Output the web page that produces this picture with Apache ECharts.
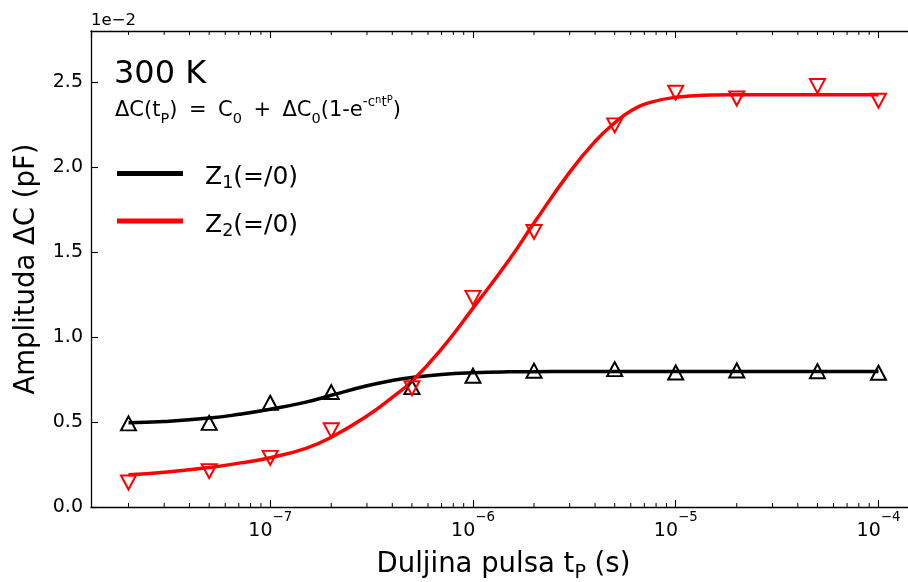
<!DOCTYPE html>
<html><head><meta charset="utf-8">
<script src="https://cdn.jsdelivr.net/npm/echarts@6/dist/echarts.min.js"></script>
<style>html,body{margin:0;padding:0;background:#fff}#c{width:908px;height:582px}</style>
</head><body><div id="c"></div>
<script>
// ---- data ----
const pulseTimes = [2e-8, 5e-8, 1e-7, 2e-7, 5e-7, 1e-6, 2e-6, 5e-6, 1e-5, 2e-5, 5e-5, 1e-4];
const z1Measured = [0.492, 0.495, 0.613, 0.676, 0.705, 0.772, 0.802, 0.811, 0.791, 0.803, 0.799, 0.790];
const z2Measured = [0.144, 0.211, 0.289, 0.451, 0.699, 1.230, 1.618, 2.245, 2.437, 2.403, 2.476, 2.390];
const fitTimes = [2e-8, 3e-8, 5e-8, 7e-8, 1e-7, 1.5e-7, 2e-7, 3e-7, 4e-7, 5e-7, 7e-7, 1e-6, 1.5e-6, 2e-6, 3e-6, 4e-6, 5e-6, 6e-6, 7.5e-6, 1e-5, 1.5e-5, 2e-5, 5e-5, 1e-4];
const z1Fit = [0.495, 0.503, 0.523, 0.545, 0.575, 0.617, 0.657, 0.713, 0.744, 0.762, 0.780, 0.790, 0.795, 0.796, 0.797, 0.797, 0.797, 0.797, 0.797, 0.797, 0.797, 0.797, 0.797, 0.797];
const z2Fit = [0.190, 0.205, 0.232, 0.258, 0.290, 0.345, 0.410, 0.535, 0.645, 0.740, 0.930, 1.170, 1.450, 1.670, 1.970, 2.150, 2.260, 2.330, 2.380, 2.410, 2.423, 2.425, 2.425, 2.425];
const seriesNames = ['Z1(=/0)', 'Z2(=/0)'];
const minorTickValues = [2e-8,3e-8,4e-8,5e-8,6e-8,7e-8,8e-8,9e-8,
  2e-7,3e-7,4e-7,5e-7,6e-7,7e-7,8e-7,9e-7,
  2e-6,3e-6,4e-6,5e-6,6e-6,7e-6,8e-6,9e-6,
  2e-5,3e-5,4e-5,5e-5,6e-5,7e-5,8e-5,9e-5];
const xMin = 1.3065e-8, xMax = 1.5311e-4;
const yMin = 0, yMax = 2.8, yStep = 0.5;

const FONT = 'DejaVu Sans';
const chart = echarts.init(document.getElementById('c'), null, {renderer: 'canvas'});

const pairs = (xs, ys) => xs.map((x, i) => [x, ys[i]]);

const xTickFmt = v => {
  const e = Math.round(Math.log10(v));
  return '{b|10}{p|\u2212' + Math.abs(e) + '}';
};

const axisCommon = {
  type: 'log', logBase: 10, min: xMin, max: xMax,
  axisLine: {show: true, lineStyle: {color: '#000', width: 1.3}},
  axisTick: {show: true, inside: true, length: 7, lineStyle: {color: '#000', width: 1.1}},
  splitLine: {show: false}, minorTick: {show: false}, minorSplitLine: {show: false}
};

const option = {
  animation: false,
  backgroundColor: '#fff',
  textStyle: {fontFamily: FONT},
  grid: {left: 91, top: 31, width: 825, height: 476, containLabel: false, outerBoundsMode: 'none'},
  title: [
    {text: '1e\u22122', left: 91, top: 12, padding: 0,
     textStyle: {fontFamily: FONT, fontSize: 16.5, fontWeight: 'normal', color: '#000', lineHeight: 17}},
    {text: '300 K', left: 114, top: 59, padding: 0,
     textStyle: {fontFamily: FONT, fontSize: 32, fontWeight: 'normal', color: '#000', lineHeight: 32}},
    {text: '{m|\u0394C(t}{s|P}{m|)}{g| }{m|=}{g| }{m|C}{s|0}{g| }{m|+}{g| }{m|\u0394C}{s|0}{m|(1-e}{u|-c}{v|n}{u|t}{v|P}{m|)}',
     left: 115, top: 95, padding: 0,
     textStyle: {fontFamily: FONT, fontWeight: 'normal', fontSize: 19, rich: {
       m: {fontFamily: FONT, fontSize: 21, lineHeight: 32, color: '#000'},
       s: {fontFamily: FONT, fontSize: 14.5, lineHeight: 14.4, verticalAlign: 'bottom', color: '#000'},
       g: {fontFamily: FONT, fontSize: 19, width: 11.5, color: '#000'},
       u: {fontFamily: FONT, fontSize: 13.5, lineHeight: 21, verticalAlign: 'top', color: '#000'},
       v: {fontFamily: FONT, fontSize: 10, lineHeight: 32, verticalAlign: 'top', color: '#000'}
     }}}
  ],
  legend: {
    data: seriesNames, orient: 'vertical', left: 117, top: 165, padding: 0,
    icon: 'rect', itemWidth: 66, itemHeight: 5, itemGap: 20, selectedMode: false,
    formatter: name => '{sp| }{m|Z}{s|' + name.charAt(1) + '}{m|(=/0)}',
    textStyle: {fontFamily: FONT, padding: [8, 0, 0, 0], rich: {
      sp: {fontFamily: FONT, fontSize: 20, width: 17},
      m: {fontFamily: FONT, fontSize: 25, lineHeight: 30, color: '#000'},
      s: {fontFamily: FONT, fontSize: 17.5, lineHeight: 17, verticalAlign: 'bottom', color: '#000'}
    }}
  },
  xAxis: [
    Object.assign({}, axisCommon, {
      position: 'bottom',
      name: '{m|Duljina pulsa t}{s|P}{m| (s)}', nameLocation: 'middle', nameGap: 40,
      nameTextStyle: {fontFamily: FONT, rich: {
        m: {fontFamily: FONT, fontSize: 27.5, lineHeight: 36, color: '#000'},
        s: {fontFamily: FONT, fontSize: 19, lineHeight: 17.4, verticalAlign: 'bottom', color: '#000'}
      }},
      axisLabel: {show: true, margin: 4, showMinLabel: false, showMaxLabel: false,
        formatter: xTickFmt, rich: {
          b: {fontFamily: FONT, fontSize: 19, lineHeight: 40, color: '#000'},
          p: {fontFamily: FONT, fontSize: 13.3, lineHeight: 17.4, verticalAlign: 'top', color: '#000'}
        }}
    }),
    Object.assign({}, axisCommon, {position: 'top', axisLabel: {show: false}})
  ],
  yAxis: {
    type: 'value', min: yMin, max: yMax, interval: yStep,
    name: 'Amplituda \u0394C (pF)', nameLocation: 'middle', nameGap: 50, nameRotate: 90,
    nameTextStyle: {fontFamily: FONT, fontSize: 27.5, color: '#000', lineHeight: 27.5},
    axisLine: {show: true, lineStyle: {color: '#000', width: 1.3}},
    axisTick: {show: true, inside: true, length: 7, lineStyle: {color: '#000', width: 1.1}},
    axisLabel: {show: true, margin: 8, showMaxLabel: false, fontFamily: FONT, fontSize: 19, color: '#000',
      formatter: v => v.toFixed(1)},
    splitLine: {show: false}
  },
  series: [
    {name: seriesNames[0], type: 'line', data: pairs(fitTimes, z1Fit), symbol: 'none', smooth: true,
     lineStyle: {color: '#000', width: 3.5}, itemStyle: {color: '#000'}, z: 3, silent: true},
    {name: seriesNames[1], type: 'line', data: pairs(fitTimes, z2Fit), symbol: 'none', smooth: true,
     lineStyle: {color: '#ff0000', width: 3.5}, itemStyle: {color: '#ff0000'}, z: 4, silent: true},
    {name: 'Z1 data', type: 'scatter', data: pairs(pulseTimes, z1Measured), symbol: 'triangle', symbolSize: [15, 14],
     itemStyle: {color: 'rgba(0,0,0,0)', borderColor: '#000', borderWidth: 2, opacity: 1}, z: 5, silent: true},
    {name: 'Z2 data', type: 'scatter', data: pairs(pulseTimes, z2Measured), symbol: 'triangle', symbolRotate: 180, symbolSize: [15, 14],
     itemStyle: {color: 'rgba(0,0,0,0)', borderColor: '#ff0000', borderWidth: 2, opacity: 1}, z: 6, silent: true},
    {name: 'minor ticks', type: 'custom', data: minorTickValues.map(t => [t, yMin]), silent: true, clip: false, z: 1,
     renderItem: (params, api) => {
       const b = api.coord([api.value(0), yMin]);
       const t = api.coord([api.value(0), yMax]);
       const st = {stroke: '#000', lineWidth: 1};
       return {type: 'group', children: [
         {type: 'line', shape: {x1: b[0], y1: b[1], x2: b[0], y2: b[1] - 4}, style: st},
         {type: 'line', shape: {x1: t[0], y1: t[1], x2: t[0], y2: t[1] + 4}, style: st}
       ]};
     }}
  ]
};
chart.setOption(option);
</script>
</body></html>
